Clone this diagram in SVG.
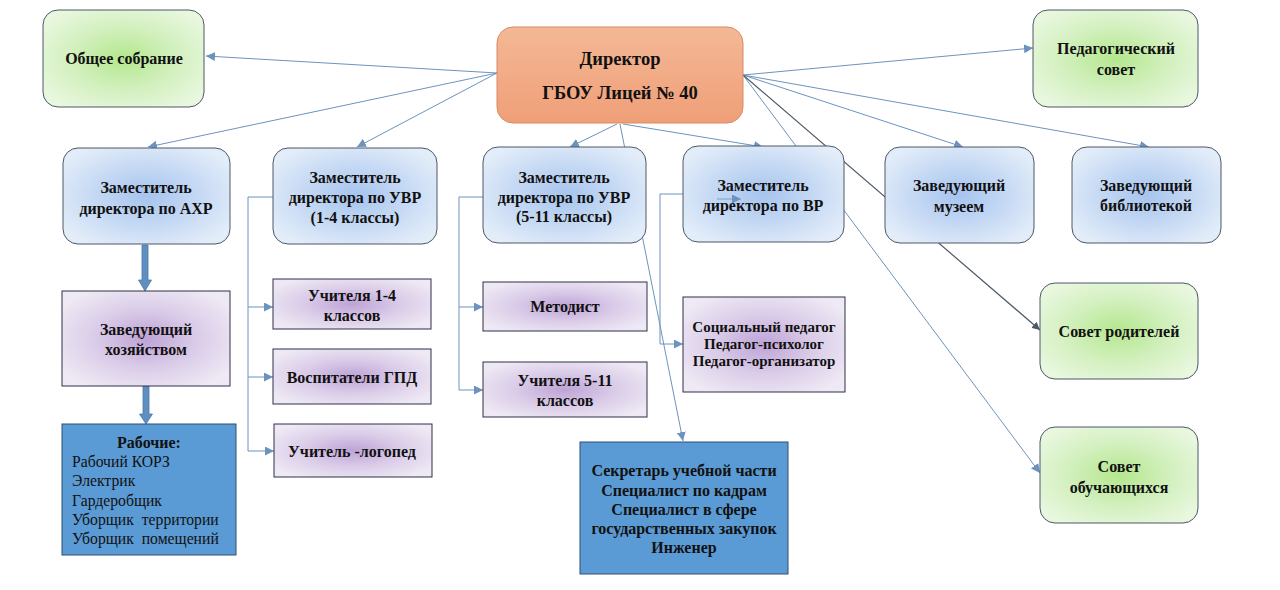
<svg xmlns="http://www.w3.org/2000/svg" width="1280" height="590" viewBox="0 0 1280 590">
<defs>
<radialGradient id="gBlue" cx="0.5" cy="0.5" r="0.6">
<stop offset="0" stop-color="#a6c4ee"/><stop offset="0.55" stop-color="#c7daf4"/><stop offset="1" stop-color="#e3edf9"/>
</radialGradient>
<radialGradient id="gGreen" cx="0.5" cy="0.5" r="0.6">
<stop offset="0" stop-color="#b4e78e"/><stop offset="0.55" stop-color="#d3f0bf"/><stop offset="1" stop-color="#e8f7de"/>
</radialGradient>
<radialGradient id="gPurple" cx="0.5" cy="0.5" r="0.6">
<stop offset="0" stop-color="#bda3d6"/><stop offset="0.5" stop-color="#dacbe8"/><stop offset="1" stop-color="#eee9f4"/>
</radialGradient>
<linearGradient id="gOrange" x1="0" y1="0" x2="0" y2="1">
<stop offset="0" stop-color="#f4b896"/><stop offset="1" stop-color="#ef9f78"/>
</linearGradient>
<marker id="ah" viewBox="0 0 10 10" refX="10" refY="5" markerWidth="9" markerHeight="9" markerUnits="userSpaceOnUse" orient="auto">
<path d="M0,0 L10,5 L0,10 z" fill="#6c93bd"/>
</marker>
<marker id="ahd" viewBox="0 0 10 10" refX="10" refY="5" markerWidth="8" markerHeight="8" markerUnits="userSpaceOnUse" orient="auto">
<path d="M0,0 L10,5 L0,10 z" fill="#4d5866"/>
</marker>
</defs>
<style>
text{font-family:'Liberation Serif','Times New Roman',serif}
.t{font-weight:bold;font-size:16px;fill:#111;text-anchor:middle;dominant-baseline:central}
.s{font-size:15px}
.r{font-size:15.7px;fill:#111;dominant-baseline:central}
.big{font-size:18.5px}
.blue{fill:url(#gBlue);stroke:#4a5868;stroke-width:1}
.green{fill:url(#gGreen);stroke:#4a5868;stroke-width:1}
.purple{fill:url(#gPurple);stroke:#2e2e4a;stroke-width:1}
.dark{fill:#5b9bd5;stroke:#2f4f72;stroke-width:1}
.c{fill:none;stroke:#6c93bd;stroke-width:1}
.cd{fill:none;stroke:#4d5866;stroke-width:1.2}
.ba{fill:#5e8fc0;stroke:#4a7aa8;stroke-width:0.8}
</style>
<rect width="1280" height="590" fill="#ffffff"/>

<g id="connectors">
<line class="c" x1="497" y1="73" x2="206" y2="56" marker-end="url(#ah)"/>
<line class="c" x1="497" y1="73" x2="148" y2="147" marker-end="url(#ah)"/>
<line class="c" x1="497" y1="73" x2="357" y2="147" marker-end="url(#ah)"/>
<line class="c" x1="617" y1="124" x2="570" y2="147" marker-end="url(#ah)"/>
<line class="c" x1="623" y1="124" x2="763" y2="147" marker-end="url(#ah)"/>
<line class="c" x1="620" y1="124" x2="683" y2="441" marker-end="url(#ah)"/>
<line class="c" x1="743" y1="75" x2="1033" y2="48" marker-end="url(#ah)"/>
<line class="c" x1="743" y1="75" x2="963" y2="147" marker-end="url(#ah)"/>
<line class="c" x1="743" y1="75" x2="1149" y2="147" marker-end="url(#ah)"/>
<line class="c" x1="743" y1="75" x2="1040" y2="473" marker-end="url(#ah)"/>
<line class="cd" x1="743" y1="75" x2="1040" y2="330" marker-end="url(#ahd)"/>
<polyline class="c" points="273,197 248,197 248,451"/>
<line class="c" x1="248" y1="307" x2="273" y2="307" marker-end="url(#ah)"/>
<line class="c" x1="248" y1="377" x2="273" y2="377" marker-end="url(#ah)"/>
<line class="c" x1="248" y1="451" x2="274" y2="451" marker-end="url(#ah)"/>
<polyline class="c" points="483,197 459,197 459,390"/>
<line class="c" x1="459" y1="307" x2="483" y2="307" marker-end="url(#ah)"/>
<line class="c" x1="459" y1="390" x2="483" y2="390" marker-end="url(#ah)"/>
<polyline class="c" points="683,194 660,194 660,344"/>
<line class="c" x1="660" y1="344" x2="683" y2="344" marker-end="url(#ah)"/>
<path class="ba" d="M142,245 H148 V280 H151.5 L145,291 L138.5,280 H142 Z"/>
<path class="ba" d="M143,386 H149 V414 H152.5 L146,424 L139.5,414 H143 Z"/>
</g>

<g id="director">
<rect x="497" y="27" width="246" height="96" rx="16" fill="url(#gOrange)" stroke="#d98a60" stroke-width="1"/>
<text class="t big" x="620" y="59">Директор</text>
<text class="t big" x="620" y="93">ГБОУ Лицей № 40</text>
</g>
<g id="obshchee">
<rect class="green" x="43" y="10" width="161" height="97" rx="15"/>
<text class="t" x="124" y="58">Общее собрание</text>
</g>
<g id="pedsovet">
<rect class="green" x="1033" y="10" width="165" height="97" rx="15"/>
<text class="t" x="1116" y="48">Педагогический</text>
<text class="t" x="1116" y="69">совет</text>
</g>
<g id="ahr">
<rect class="blue" x="63" y="148" width="167" height="96" rx="15"/>
<text class="t" x="146" y="187">Заместитель</text>
<text class="t" x="146" y="208">директора по АХР</text>
</g>
<g id="uvr14">
<rect class="blue" x="273" y="148" width="164" height="96" rx="15"/>
<text class="t" x="355" y="177">Заместитель</text>
<text class="t" x="355" y="197">директора по УВР</text>
<text class="t" x="355" y="217">(1-4 классы)</text>
</g>
<g id="uvr511">
<rect class="blue" x="483" y="147" width="163" height="96" rx="15"/>
<text class="t" x="564" y="177">Заместитель</text>
<text class="t" x="564" y="197">директора по УВР</text>
<text class="t" x="564" y="216">(5-11 классы)</text>
</g>
<g id="vr">
<rect class="blue" x="683" y="146" width="161" height="96" rx="15"/>
<line x1="717" y1="199" x2="741" y2="199" stroke="#7aa0c8" stroke-width="1" marker-end="url(#ah)"/>
<text class="t" x="763" y="185">Заместитель</text>
<text class="t" x="763" y="205">директора по ВР</text>
</g>
<g id="muzey">
<rect class="blue" x="885" y="147" width="149" height="96" rx="15"/>
<text class="t" x="959" y="185">Заведующий</text>
<text class="t" x="959" y="206">музеем</text>
</g>
<g id="biblioteka">
<rect class="blue" x="1072" y="147" width="149" height="96" rx="15"/>
<text class="t" x="1146" y="185">Заведующий</text>
<text class="t" x="1146" y="205">библиотекой</text>
</g>
<g id="zavhoz">
<rect class="purple" x="62" y="291" width="168" height="95"/>
<text class="t" x="146" y="329">Заведующий</text>
<text class="t" x="146" y="349">хозяйством</text>
</g>
<g id="rabochie">
<rect class="dark" x="62" y="424" width="174" height="131"/>
<text class="t" x="149" y="442">Рабочие:</text>
<text class="r" x="72" y="461">Рабочий КОРЗ</text>
<text class="r" x="72" y="480.5">Электрик</text>
<text class="r" x="72" y="500">Гардеробщик</text>
<text class="r" x="72" y="519" xml:space="preserve">Уборщик  территории</text>
<text class="r" x="72" y="538" xml:space="preserve">Уборщик  помещений</text>
</g>
<g id="uchitelya14">
<rect class="purple" x="273" y="279" width="158" height="50"/>
<text class="t" x="352" y="295">Учителя 1-4</text>
<text class="t" x="352" y="315">классов</text>
</g>
<g id="vospitateli">
<rect class="purple" x="273" y="349" width="158" height="55"/>
<text class="t" x="352" y="377">Воспитатели ГПД</text>
</g>
<g id="logoped">
<rect class="purple" x="274" y="424" width="158" height="53"/>
<text class="t" x="352" y="451">Учитель -логопед</text>
</g>
<g id="metodist">
<rect class="purple" x="483" y="282" width="164" height="49"/>
<text class="t" x="565" y="306">Методист</text>
</g>
<g id="uchitelya511">
<rect class="purple" x="483" y="362" width="164" height="55"/>
<text class="t" x="565" y="380">Учителя 5-11</text>
<text class="t" x="565" y="400">классов</text>
</g>
<g id="socped">
<rect class="purple" x="683" y="297" width="162" height="95"/>
<text class="t s" x="764" y="327">Социальный педагог</text>
<text class="t s" x="764" y="344">Педагог-психолог</text>
<text class="t s" x="764" y="361">Педагог-организатор</text>
</g>
<g id="sekretar">
<rect class="dark" x="580" y="442" width="208" height="132"/>
<text class="t" x="684" y="470">Секретарь учебной части</text>
<text class="t" x="684" y="490">Специалист по кадрам</text>
<text class="t" x="684" y="509">Специалист в сфере</text>
<text class="t" x="684" y="528">государственных закупок</text>
<text class="t" x="684" y="547">Инженер</text>
</g>
<g id="sovet-roditeley">
<rect class="green" x="1040" y="283" width="158" height="96" rx="15"/>
<text class="t" x="1119" y="331">Совет родителей</text>
</g>
<g id="sovet-obuch">
<rect class="green" x="1040" y="427" width="158" height="96" rx="15"/>
<text class="t" x="1119" y="466">Совет</text>
<text class="t" x="1119" y="487">обучающихся</text>
</g>
</svg>
